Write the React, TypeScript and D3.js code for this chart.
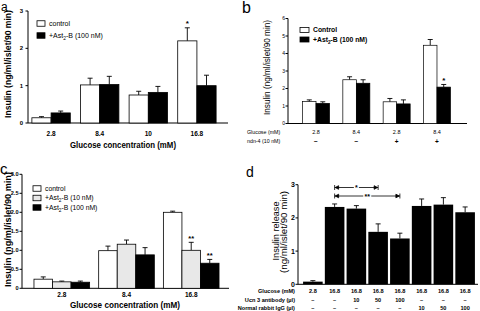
import React from "react";
import * as d3 from "d3";

const FONT = "'Liberation Sans', Arial, Helvetica, sans-serif";

// ---------- Panel a ----------
const aCategories = ["2.8", "8.4", "10", "16.8"];
const aControl = [0.14, 1.02, 0.75, 2.2];
const aControlErr = [0.03, 0.18, 0.1, 0.35];
const aAst = [0.27, 1.03, 0.82, 1.0];
const aAstErr = [0.05, 0.22, 0.16, 0.28];
const aYTicks = [0, 1, 2, 3];

// ---------- Panel b ----------
const bGlucose = ["2.8", "8.4", "2.8", "8.4"];
const bNdn = ["\u2212", "\u2212", "+", "+"];
const bControl = [1.25, 2.5, 1.24, 4.47];
const bControlErr = [0.1, 0.17, 0.19, 0.33];
const bAst = [1.15, 2.3, 1.12, 2.08];
const bAstErr = [0.09, 0.2, 0.23, 0.15];
const bYTicks = [0, 1, 2, 3, 4, 5, 6];

// ---------- Panel c ----------
const cCategories = ["2.8", "8.4", "16.8"];
const cControl = [0.24, 0.99, 2.0];
const cControlErr = [0.06, 0.12, 0.03];
const cAst10 = [0.17, 1.16, 1.0];
const cAst10Err = [0.02, 0.11, 0.21];
const cAst100 = [0.16, 0.88, 0.66];
const cAst100Err = [0.03, 0.19, 0.1];
const cYTicks = [0, 0.5, 1.0, 1.5, 2.0, 2.5, 3.0];

// ---------- Panel d ----------
const dGlucose = ["2.8", "16.8", "16.8", "16.8", "16.8", "16.8", "16.8", "16.8"];
const dUcn = ["\u2013", "\u2013", "10", "50", "100", "\u2013", "\u2013", "\u2013"];
const dIgG = ["\u2013", "\u2013", "\u2013", "\u2013", "\u2013", "10", "50", "100"];
const dValues = [0.08, 2.33, 2.28, 1.58, 1.38, 2.36, 2.4, 2.17];
const dErr = [0.03, 0.09, 0.09, 0.24, 0.16, 0.21, 0.21, 0.16];
const dYTicks = [0, 1, 2, 3];
const dRowLabels = ["Glucose (mM)", "Ucn 3 antibody (\u00b5l)", "Normal rabbit IgG (\u00b5l)"];

type Band = d3.ScaleBand<string>;
type Lin = d3.ScaleLinear<number, number>;

function groupedBars(
  key: string,
  x: Band,
  y: Lin,
  series: number[][],
  errs: number[][],
  fills: string[],
  strokeW = 0.8
) {
  const inner = d3
    .scaleBand<number>()
    .domain(d3.range(series.length))
    .range([0, x.bandwidth()]);
  const out: React.ReactNode[] = [];
  x.domain().forEach((cat, i) => {
    series.forEach((vals, s) => {
      const x0 = (x(cat) as number) + (inner(s) as number);
      const w = inner.bandwidth();
      const top = y(vals[i]);
      const etop = y(vals[i] + errs[s][i]);
      const cx = x0 + w / 2;
      out.push(
        <g key={`${key}-${i}-${s}`}>
          <line x1={cx} x2={cx} y1={top} y2={etop} stroke="#000" strokeWidth={0.9} />
          <line x1={cx - 2.5} x2={cx + 2.5} y1={etop} y2={etop} stroke="#000" strokeWidth={0.9} />
          <rect x={x0} y={top} width={w} height={y(0) - top} fill={fills[s]} stroke="#000" strokeWidth={strokeW} />
        </g>
      );
    });
  });
  return out;
}

function yAxis(key: string, y: Lin, ax: number, ticks: number[], fmt: (v: number) => string, fs: number, bold: boolean, lx: number) {
  const [lo, hi] = y.domain();
  return (
    <g key={key}>
      <line x1={ax} x2={ax} y1={y(lo)} y2={y(hi)} stroke="#000" strokeWidth={1} />
      {ticks.map((t) => (
        <g key={t}>
          <line x1={ax - 2.5} x2={ax} y1={y(t)} y2={y(t)} stroke="#000" strokeWidth={1} />
          <text x={lx} y={y(t) + fs * 0.36} fontSize={fs} fontWeight={bold ? "bold" : "normal"} textAnchor="end">
            {fmt(t)}
          </text>
        </g>
      ))}
    </g>
  );
}

function Legend({ x, y, items, fs, bold, dy, bw = 8, bh = 5.5 }: any) {
  return (
    <g>
      {items.map((it: any, i: number) => (
        <g key={i}>
          <rect x={x} y={y + i * dy - bh / 2} width={bw} height={bh} fill={it.fill} stroke="#000" strokeWidth={0.8} />
          <text x={x + bw + 4} y={y + i * dy + fs * 0.36} fontSize={fs} fontWeight={bold ? "bold" : "normal"}>
            {it.sub ? (
              <>
                {it.pre}
                <tspan dy={1.6} fontSize={fs * 0.7}>{it.sub}</tspan>
                <tspan dy={-1.6}>{it.post}</tspan>
              </>
            ) : (
              it.label
            )}
          </text>
        </g>
      ))}
    </g>
  );
}

function Bracket({ x1, x2, y, label }: { x1: number; x2: number; y: number; label: string }) {
  const mid = (x1 + x2) / 2;
  const gap = label.length * 3 + 2;
  return (
    <g stroke="#000" strokeWidth={0.8}>
      <line x1={x1} x2={mid - gap / 2} y1={y} y2={y} />
      <line x1={mid + gap / 2} x2={x2} y1={y} y2={y} />
      <line x1={x1} x2={x1} y1={y - 2.5} y2={y + 2.5} />
      <line x1={x2} x2={x2} y1={y - 2.5} y2={y + 2.5} />
      <path d={`M${x1 + 0.6},${y} L${x1 + 4},${y - 1.8} L${x1 + 4},${y + 1.8} Z`} fill="#000" />
      <path d={`M${x2 - 0.6},${y} L${x2 - 4},${y - 1.8} L${x2 - 4},${y + 1.8} Z`} fill="#000" />
      <text x={mid} y={y + 2.8} fontSize={7} textAnchor="middle" stroke="none" fontWeight="bold">
        {label}
      </text>
    </g>
  );
}

export default function App() {
  // Panel a scales
  const ax = 28;
  const aX = d3.scaleBand<string>().domain(aCategories).range([ax, 220]).paddingInner(0.21).paddingOuter(0.08);
  const aY = d3.scaleLinear().domain([0, 3]).range([123, 11]);

  // Panel b scales
  const bx = 288;
  const bKeys = bGlucose.map((g, i) => `${g}-${i}`);
  const bX = d3.scaleBand<string>().domain(bKeys).range([bx, 465]).paddingInner(0.33).paddingOuter(0.36);
  const bY = d3.scaleLinear().domain([0, 6]).range([123.5, 18.5]);

  // Panel c scales
  const cx = 22;
  const cX = d3.scaleBand<string>().domain(cCategories).range([cx, 231]).paddingInner(0.14).paddingOuter(0.185);
  const cY = d3.scaleLinear().domain([0, 3]).range([288.3, 174.3]);

  // Panel d scales
  const dx = 298;
  const dKeys = dValues.map((_, i) => String(i));
  const dX = d3.scaleBand<string>().domain(dKeys).range([302, 476]).paddingInner(0.1).paddingOuter(0.05);
  const dY = d3.scaleLinear().domain([0, 3]).range([284.3, 184.7]);
  const dc = (i: number) => (dX(String(i)) as number) + dX.bandwidth() / 2;

  const bCenter = (i: number) => (bX(bKeys[i]) as number) + bX.bandwidth() / 2;
  const aCenter = (c: string) => (aX(c) as number) + aX.bandwidth() / 2;
  const cCenter = (c: string) => (cX(c) as number) + cX.bandwidth() / 2;

  return (
    <svg
      width={480}
      height={311}
      viewBox="0 0 480 311"
      style={{ position: "absolute", left: 0, top: 0, background: "#fff" }}
      fontFamily={FONT}
    >
      <rect x={0} y={0} width={480} height={311} fill="#fff" />

      {/* ===== Panel a ===== */}
      <text x={1} y={11} fontSize={12}>a</text>
      {yAxis("ay", aY, ax, aYTicks, (v) => String(v), 6, true, 23)}
      <line x1={ax} x2={228} y1={aY(0)} y2={aY(0)} stroke="#000" strokeWidth={1} />
      {groupedBars("a", aX, aY, [aControl, aAst], [aControlErr, aAstErr], ["#fff", "#000"])}
      {aCategories.map((c) => (
        <text key={c} x={aCenter(c)} y={136} fontSize={6.5} fontWeight="bold" textAnchor="middle">{c}</text>
      ))}
      <text x={123} y={148} fontSize={9} fontWeight="bold" textAnchor="middle" textLength={106} lengthAdjust="spacingAndGlyphs">
        Glucose concentration (mM)
      </text>
      <text
        transform={`translate(11,${64}) rotate(-90)`}
        fontSize={8.5}
        fontWeight="bold"
        textAnchor="middle"
        textLength={108}
        lengthAdjust="spacingAndGlyphs"
      >
        Insulin (ng/ml/islet/90 min)
      </text>
      <Legend
        x={37}
        y={23.5}
        dy={12}
        fs={7}
        bold={false}
        items={[
          { fill: "#fff", label: "control" },
          { fill: "#000", sub: "2", pre: "+Ast", post: "-B (100 nM)" },
        ]}
      />
      <text x={(aX("16.8") as number) + aX.bandwidth() / 4} y={aY(aControl[3] + aControlErr[3]) - 2} fontSize={8} fontWeight="bold" textAnchor="middle">*</text>

      {/* ===== Panel b ===== */}
      <text x={242} y={13} fontSize={16}>b</text>
      {yAxis("by", bY, bx, bYTicks, (v) => String(v), 5, false, 285)}
      <line x1={bx} x2={467} y1={bY(0)} y2={bY(0)} stroke="#000" strokeWidth={1} />
      {groupedBars("b", bX, bY, [bControl, bAst], [bControlErr, bAstErr], ["#fff", "#000"], 0.7)}
      <text
        transform={`translate(270,${67.5}) rotate(-90)`}
        fontSize={9}
        textAnchor="middle"
        textLength={95}
        lengthAdjust="spacingAndGlyphs"
      >
        Insulin (ng/ml/islet/90 min)
      </text>
      <Legend
        x={300}
        y={30}
        dy={9.5}
        fs={6.8}
        bold={true}
        bw={9}
        bh={5}
        items={[
          { fill: "#fff", label: "Control" },
          { fill: "#000", sub: "2", pre: "+Ast", post: "-B (100 nM)" },
        ]}
      />
      <text x={(bX(bKeys[3]) as number) + (bX.bandwidth() * 3) / 4} y={bY(bAst[3] + bAstErr[3]) - 1} fontSize={8} fontWeight="bold" textAnchor="middle">*</text>
      <text x={247} y={134} fontSize={5.3}>Glucose (mM)</text>
      <text x={247} y={143} fontSize={5.3}>ndn-4 (10 nM)</text>
      {bGlucose.map((g, i) => (
        <text key={`bg${i}`} x={bCenter(i)} y={134} fontSize={5.5} textAnchor="middle">{g}</text>
      ))}
      {bNdn.map((g, i) => (
        <text key={`bn${i}`} x={bCenter(i)} y={143.5} fontSize={6.5} fontWeight="bold" textAnchor="middle">{g}</text>
      ))}

      {/* ===== Panel c ===== */}
      <text x={0} y={174} fontSize={15}>c</text>
      {yAxis("cy", cY, cx, cYTicks, (v) => (v === 0 ? "0" : v.toFixed(1)), 5.6, true, 18.5)}
      <line x1={cx} x2={229} y1={cY(0)} y2={cY(0)} stroke="#000" strokeWidth={1} />
      {groupedBars("c", cX, cY, [cControl, cAst10, cAst100], [cControlErr, cAst10Err, cAst100Err], ["#fff", "#e8e8e8", "#000"])}
      {cCategories.map((c) => (
        <text key={c} x={cCenter(c)} y={296.5} fontSize={6.5} fontWeight="bold" textAnchor="middle">{c}</text>
      ))}
      <text x={125} y={307.5} fontSize={9.5} fontWeight="bold" textAnchor="middle" textLength={110} lengthAdjust="spacingAndGlyphs">
        Glucose concentration (mM)
      </text>
      <text
        transform={`translate(10.5,${229.5}) rotate(-90)`}
        fontSize={9}
        fontWeight="bold"
        textAnchor="middle"
        textLength={115}
        lengthAdjust="spacingAndGlyphs"
      >
        Insulin (ng/ml/islet/90 min)
      </text>
      <Legend
        x={33}
        y={188.5}
        dy={9.5}
        fs={6.8}
        bold={false}
        items={[
          { fill: "#fff", label: "control" },
          { fill: "#e8e8e8", sub: "2", pre: "+Ast", post: "-B (10 nM)" },
          { fill: "#000", sub: "2", pre: "+Ast", post: "-B (100 nM)" },
        ]}
      />
      {(() => {
        const inner = cX.bandwidth() / 3;
        const x0 = cX("16.8") as number;
        return (
          <>
            <text x={x0 + inner * 1.5} y={cY(cAst10[2] + cAst10Err[2]) - 1} fontSize={7.5} fontWeight="bold" textAnchor="middle">**</text>
            <text x={x0 + inner * 2.5} y={cY(cAst100[2] + cAst100Err[2]) - 1} fontSize={7.5} fontWeight="bold" textAnchor="middle">**</text>
          </>
        );
      })()}

      {/* ===== Panel d ===== */}
      <text x={246} y={177} fontSize={14}>d</text>
      {yAxis("dy", dY, dx, dYTicks, (v) => String(v), 7, true, 295)}
      <line x1={dx} x2={478} y1={dY(0)} y2={dY(0)} stroke="#000" strokeWidth={1} />
      {dValues.map((v, i) => {
        const x0 = dX(String(i)) as number;
        const w = dX.bandwidth();
        const top = dY(v);
        const et = dY(v + dErr[i]);
        const cxx = x0 + w / 2;
        return (
          <g key={`d${i}`}>
            <line x1={cxx} x2={cxx} y1={top} y2={et} stroke="#000" strokeWidth={0.9} />
            <line x1={cxx - 2.5} x2={cxx + 2.5} y1={et} y2={et} stroke="#000" strokeWidth={0.9} />
            <rect x={x0} y={top} width={w} height={dY(0) - top} fill="#000" />
          </g>
        );
      })}
      <Bracket x1={dc(1)} x2={dc(3)} y={187.5} label="*" />
      <Bracket x1={dc(1)} x2={dc(4)} y={196} label="**" />
      <text transform={`translate(279,231) rotate(-90)`} fontSize={9} textAnchor="middle" textLength={59} lengthAdjust="spacingAndGlyphs">
        Insulin release
      </text>
      <text transform={`translate(286.5,232) rotate(-90)`} fontSize={9} textAnchor="middle" textLength={82} lengthAdjust="spacingAndGlyphs">
        (ng/ml/islet/90 min)
      </text>
      {dRowLabels.map((l, r) => (
        <text key={`dl${r}`} x={295} y={293 + r * 8.7} fontSize={5.6} fontWeight="bold" textAnchor="end">{l}</text>
      ))}
      {[dGlucose, dUcn, dIgG].map((row, r) =>
        row.map((t, i) => (
          <text key={`dr${r}-${i}`} x={dc(i)} y={293 + r * 8.7} fontSize={5.6} fontWeight="bold" textAnchor="middle">{t}</text>
        ))
      )}
    </svg>
  );
}
